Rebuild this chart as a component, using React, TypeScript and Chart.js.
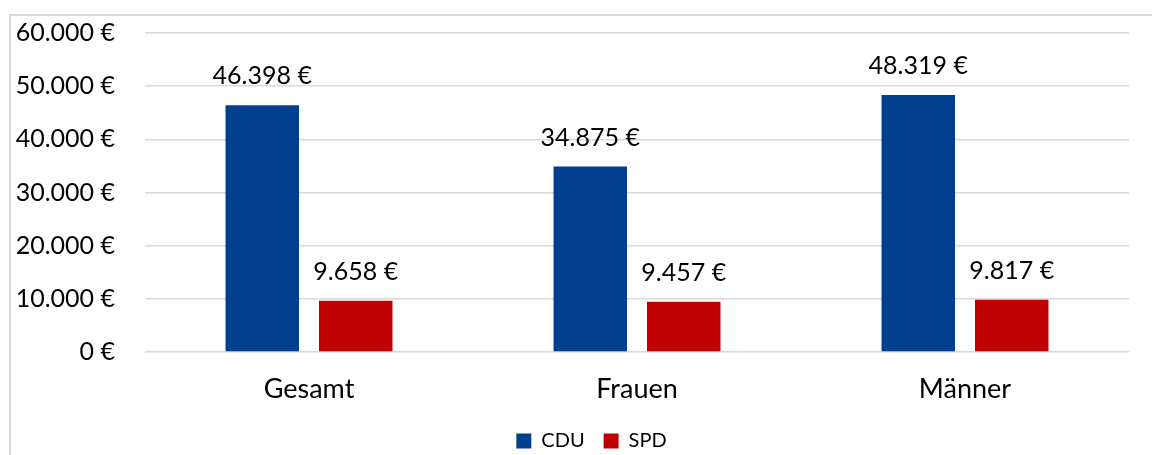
import React, { useEffect, useRef } from "react";
import { Chart, registerables } from "chart.js";

Chart.register(...registerables);

const categories = ["Gesamt", "Frauen", "Männer"];
const cduValues = [46398, 34875, 48319];
const spdValues = [9658, 9457, 9817];
const seriesNames = ["CDU", "SPD"];
const yTickMax = 60000;
const yTickStep = 10000;

const FONT = "Lato, 'Open Sans', sans-serif";

function fmt(v: number): string {
  const s = Math.round(v).toString().replace(/\B(?=(\d{3})+(?!\d))/g, ".");
  return s + " €";
}

const frame = {
  id: "frame",
  beforeDraw(chart: any) {
    const ctx = chart.ctx;
    ctx.save();
    ctx.strokeStyle = "#d9d9d9";
    ctx.lineWidth = 2;
    ctx.beginPath();
    ctx.moveTo(10, chart.height);
    ctx.lineTo(10, 15);
    ctx.lineTo(chart.width, 15);
    ctx.stroke();
    ctx.restore();
  },
};

const legendShift = {
  id: "legendShift",
  afterLayout(chart: any) {
    const lg = chart.legend;
    if (!lg) return;
    lg.left += 27;
    lg.right += 27;
    lg.top += 6;
    lg.bottom += 6;
  },
};

const valueLabels = {
  id: "valueLabels",
  afterDatasetsDraw(chart: any) {
    const ctx = chart.ctx;
    ctx.save();
    ctx.font = `25px ${FONT}`;
    ctx.fillStyle = "#000000";
    ctx.textAlign = "center";
    ctx.textBaseline = "middle";
    chart.data.datasets.forEach((ds: any, i: number) => {
      const meta = chart.getDatasetMeta(i);
      meta.data.forEach((bar: any, j: number) => {
        ctx.fillText(fmt(ds.data[j]), bar.x, bar.y - 29);
      });
    });
    ctx.restore();
  },
};

export default function App() {
  const ref = useRef<HTMLCanvasElement | null>(null);
  useEffect(() => {
    if (!ref.current) return;
    const chart = new Chart(ref.current, {
      type: "bar",
      data: {
        labels: categories,
        datasets: [
          { label: seriesNames[0], data: cduValues, backgroundColor: "#003F8C", borderWidth: 0 },
          { label: seriesNames[1], data: spdValues, backgroundColor: "#C00000", borderWidth: 0 },
        ],
      },
      options: {
        responsive: false,
        animation: false,
        layout: { padding: { top: 33, left: 0, right: 23, bottom: 0 } },
        datasets: {
          bar: { categoryPercentage: 0.57, barPercentage: 0.786 },
        } as any,
        scales: {
          x: {
            afterFit: (s: any) => {
              s.height = 54;
              s.paddingTop = 0;
              s.paddingBottom = 0;
            },
            grid: { display: false },
            border: { display: false },
            ticks: { color: "#000000", font: { family: FONT, size: 27 }, padding: 13 },
          },
          y: {
            min: 0,
            max: yTickMax,
            afterFit: (s: any) => {
              s.width = 145;
              s.paddingTop = 0;
              s.paddingBottom = 0;
            },
            grid: { color: "#d9d9d9", lineWidth: 1.5, drawTicks: false },
            border: { display: false },
            ticks: {
              stepSize: yTickStep,
              color: "#000000",
              padding: 30,
              font: { family: FONT, size: 25 },
              callback: (v: any) => fmt(Number(v)),
            },
          },
        },
        plugins: {
          legend: {
            position: "bottom",
            labels: {
              color: "#000000",
              font: { family: FONT, size: 20 },
              boxWidth: 15,
              boxHeight: 15,
              padding: 19,
            },
          },
          tooltip: { enabled: false },
        },
      },
      plugins: [frame, legendShift, valueLabels],
    });
    return () => chart.destroy();
  }, []);
  return (
    <div style={{ position: "absolute", left: 0, top: 0, width: 1152, height: 455, background: "#fff" }}>
      <canvas ref={ref} width={1152} height={455} />
    </div>
  );
}
